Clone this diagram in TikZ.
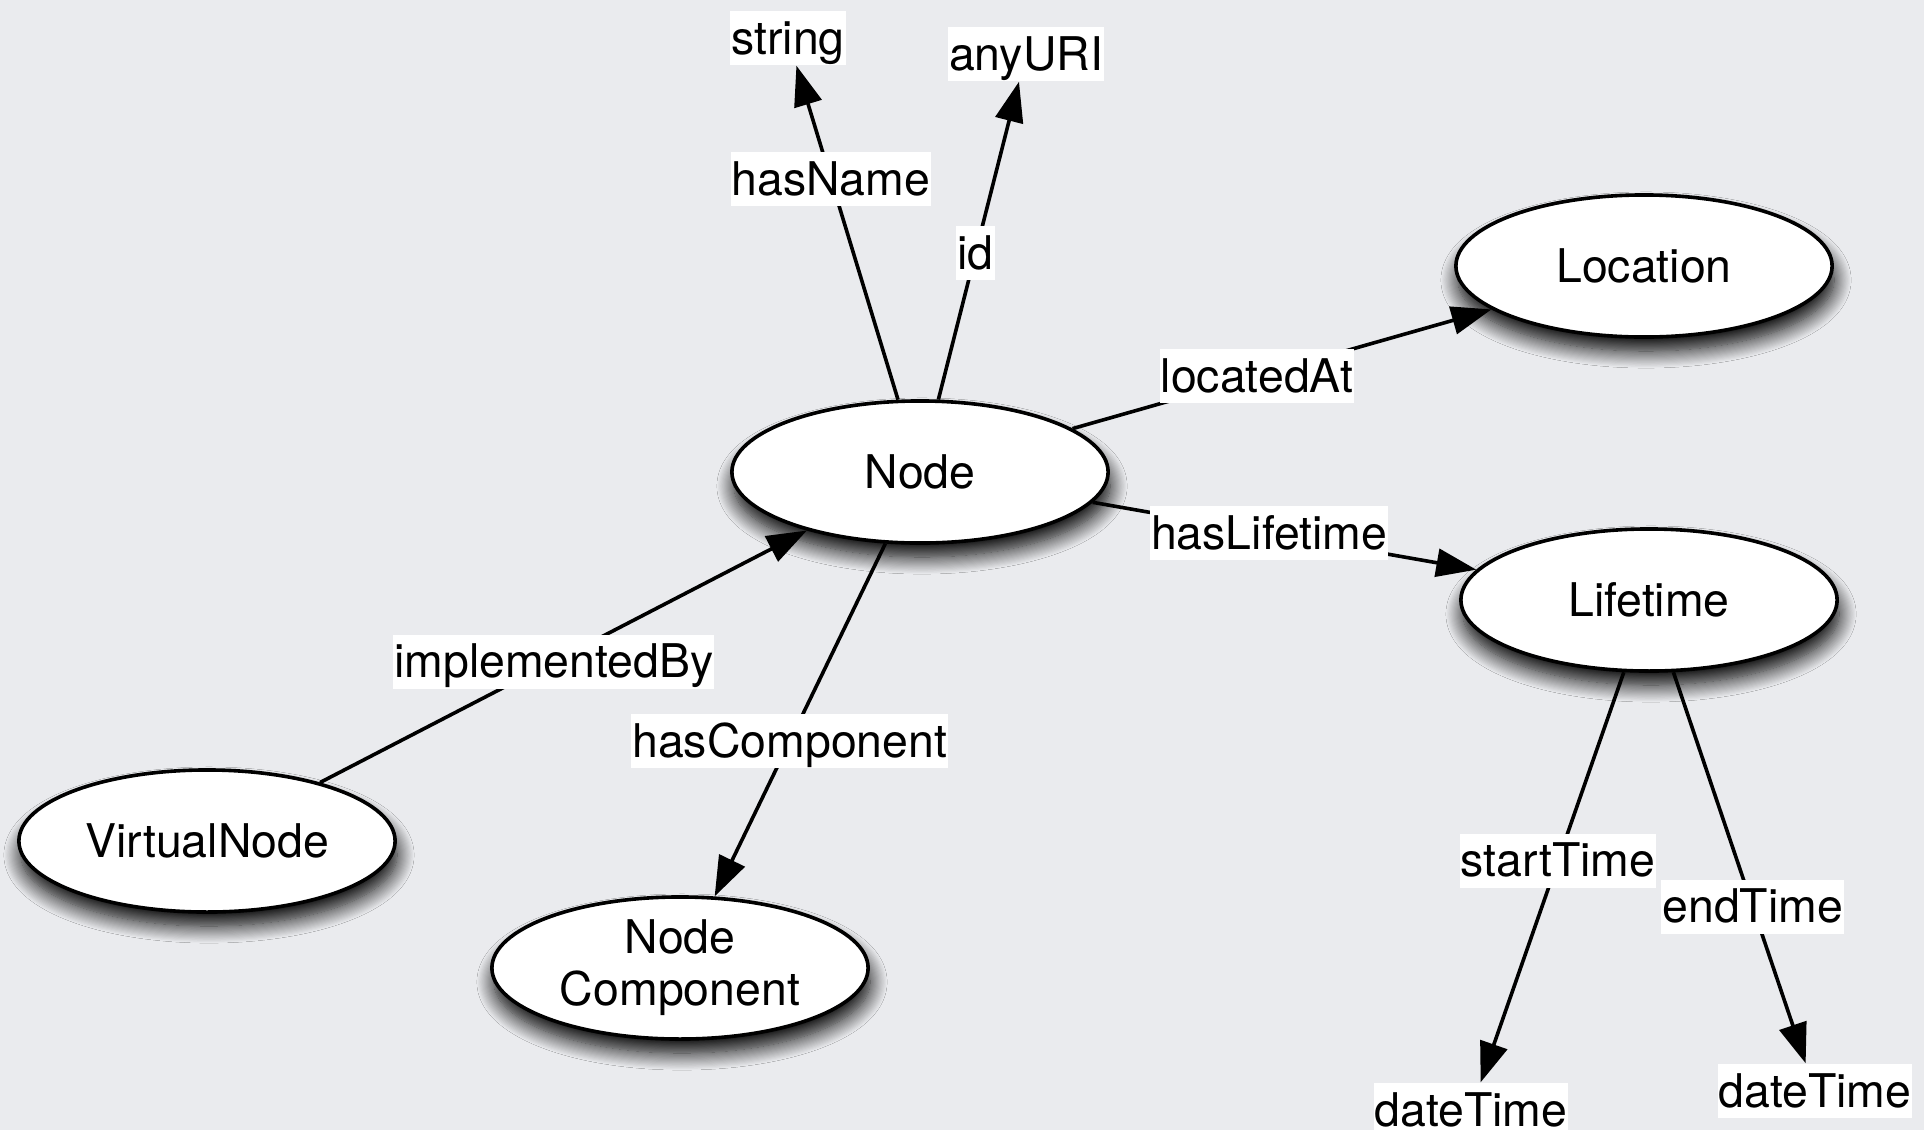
\documentclass[tikz,border=0pt]{standalone}
\usepackage{fontspec}
\setmainfont{TeX Gyre Heros}
\usetikzlibrary{shapes.geometric,arrows.meta,shadows.blur}
\definecolor{canvas}{RGB}{234,235,238}

\begin{document}
\begin{tikzpicture}[x=0.01cm,y=-0.01cm,font=\fontsize{13.2pt}{14.8pt}\selectfont,
	concept/.style={ellipse,draw,fill=white,line width=0.036cm,minimum width=3.76cm,
	minimum height=1.42cm,inner sep=0pt,align=center,
	blur shadow={shadow xshift=0.02cm,shadow yshift=-0.14cm,shadow blur radius=0.17cm,
	shadow blur steps=16,shadow opacity=100}},
	lit/.style={fill=white,inner xsep=0.01cm,inner ysep=0pt,text height=0.43cm,text depth=0.11cm},
	rel/.style={line width=0.036cm,-{Triangle[length=0.4cm,width=0.28cm]}}]
\fill[canvas] (0,0) rectangle (1924,1130);
\useasboundingbox (0,0) rectangle (1924,1130);
% classes
\node[concept] (node) at (920,472) {Node};
\node[concept] (location) at (1644,266) {Location};
\node[concept] (lifetime) at (1649,600) {Lifetime};
\node[concept] (virtual) at (207,841) {VirtualNode};
\node[concept] (component) at (680,968) {Node\\Component};
% datatypes
\node[lit] (string) at (788,38) {string};
\node[lit] (uri) at (1026,54) {anyURI};
\node[lit] (start) at (1471,1110) {dateTime};
\node[lit] (end) at (1815,1091) {dateTime};
% properties
\draw[rel] (node) -- node[lit,pos=.66] (hasname) {hasName} (string);
\draw[rel] (node) -- node[lit,pos=.46] (id) {id} (uri);
\draw[rel] (node) -- node[lit,pos=.44] (locatedat) {locatedAt} (location);
\draw[rel] (node) -- node[lit,pos=.46] (haslifetime) {hasLifetime} (lifetime);
\draw[rel] (virtual) -- node[lit,pos=.48] (implementedby) {implementedBy} (node);
\draw[rel] (node) -- node[lit,pos=.56] (hascomponent) {hasComponent} (component);
\draw[rel] (lifetime) -- node[lit,pos=.46] (starttime) {startTime} (start);
\draw[rel] (lifetime) -- node[lit,pos=.60] (endtime) {endTime} (end);
\end{tikzpicture}
\end{document}
